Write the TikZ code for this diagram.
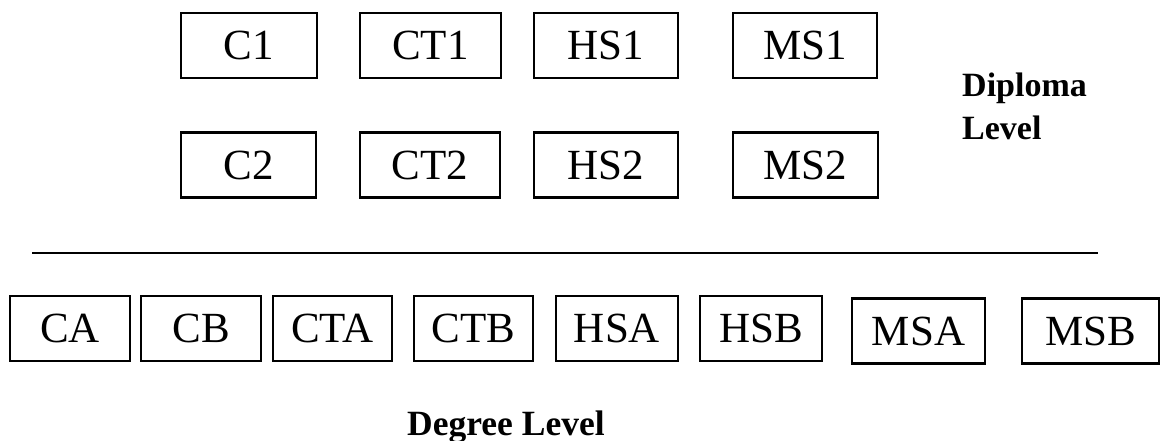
\documentclass[tikz,border=0pt]{standalone}
\usepackage{fontspec}
\setmainfont{Liberation Serif}
\begin{document}
\begin{tikzpicture}[x=1pt,y=-1pt,
  box/.style={draw=black, line width=2.3pt, inner sep=0pt, minimum height=65pt,
    font=\fontsize{43}{50}\selectfont},
  lvl/.style={inner sep=0pt, font=\fontsize{34}{43}\selectfont\bfseries, align=left}]
\useasboundingbox (0,0) rectangle (1161,441);
% Diploma level
\node[box, minimum width=136pt] (C1)  at (249,45.5)   {C1};
\node[box, minimum width=141pt] (CT1) at (430.5,45.5) {CT1};
\node[box, minimum width=144pt] (HS1) at (606,45.5)   {HS1};
\node[box, minimum width=144pt] (MS1) at (805,45.5)   {MS1};
\node[box, minimum width=135pt] (C2)  at (248.5,165)  {C2};
\node[box, minimum width=140pt] (CT2) at (430,165)    {CT2};
\node[box, minimum width=144pt] (HS2) at (606,165)    {HS2};
\node[box, minimum width=145pt] (MS2) at (805.5,165)  {MS2};
\node[lvl, anchor=north west] (dipl) at (962,73) {Diploma\\Level};
% separator
\coordinate (sepL) at (32,253);
\coordinate (sepR) at (1098,253);
\draw[line width=2pt] (sepL) -- (sepR);
% Degree level
\node[box, minimum width=120pt] (CA)  at (70,328.5)    {CA};
\node[box, minimum width=120pt] (CB)  at (201,328.5)   {CB};
\node[box, minimum width=119pt] (CTA) at (332.5,328.5) {CTA};
\node[box, minimum width=119pt] (CTB) at (473.5,328.5) {CTB};
\node[box, minimum width=122pt] (HSA) at (617,328.5)   {HSA};
\node[box, minimum width=122pt] (HSB) at (761,328.5)   {HSB};
\node[box, minimum width=133pt] (MSA) at (918.5,331)   {MSA};
\node[box, minimum width=137pt] (MSB) at (1090.5,331)  {MSB};
\node[lvl, anchor=base west, font=\fontsize{35.5}{43}\selectfont\bfseries] (deg) at (407,435) {Degree Level};
\end{tikzpicture}
\end{document}
